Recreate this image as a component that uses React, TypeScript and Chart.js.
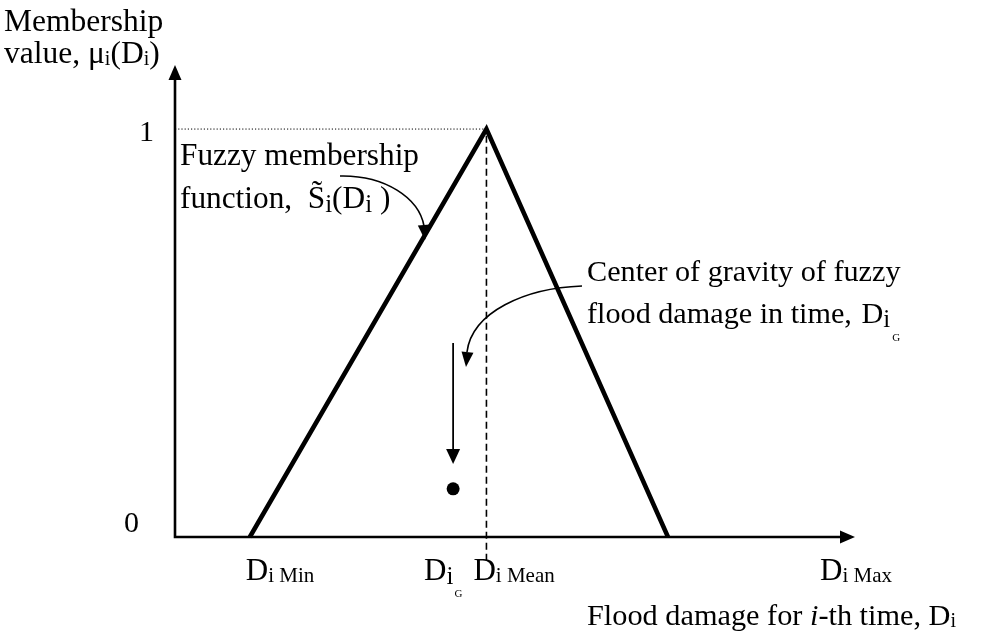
import React, { useEffect, useRef } from "react";
import { Chart, registerables } from "chart.js";

Chart.register(...registerables);

// Damage axis (arbitrary units 0..100) and membership values
const triangleX = [11.0, 45.8, 72.5]; // D_i Min, D_i Mean, D_i Max
const triangleY = [0, 1, 0];
const centroidX = [40.9]; // D_iG
const centroidY = [0.118];
const xAxisMax = 100;
const yAxisMax = 1.157;
const yTickValues = [0, 1];
const yTickLabels = ["0", "1"];
const meanLineBottom = -0.058;

const FONT = '"Liberation Serif", "Times New Roman", serif';

type Run = { t: string; s: number; dy?: number; it?: boolean };

function drawRich(ctx: CanvasRenderingContext2D, x: number, y: number, runs: Run[], align: "left" | "right" | "center" = "left") {
  let w = 0;
  for (const r of runs) {
    ctx.font = `${r.it ? "italic " : ""}${r.s}px ${FONT}`;
    w += ctx.measureText(r.t).width;
  }
  let cx = align === "right" ? x - w : align === "center" ? x - w / 2 : x;
  ctx.textAlign = "left";
  ctx.textBaseline = "alphabetic";
  for (const r of runs) {
    ctx.font = `${r.it ? "italic " : ""}${r.s}px ${FONT}`;
    ctx.fillText(r.t, cx, y + (r.dy || 0));
    cx += ctx.measureText(r.t).width;
  }
  return cx;
}

function arrowHead(ctx: CanvasRenderingContext2D, tipX: number, tipY: number, angle: number, len: number, half: number) {
  ctx.save();
  ctx.translate(tipX, tipY);
  ctx.rotate(angle);
  ctx.beginPath();
  ctx.moveTo(0, 0);
  ctx.lineTo(-len, -half);
  ctx.lineTo(-len, half);
  ctx.closePath();
  ctx.fill();
  ctx.restore();
}

const diagramPlugin = {
  id: "diagram",
  afterDatasetsDraw(chart: any) {
    const ctx: CanvasRenderingContext2D = chart.ctx;
    const xs = chart.scales.x;
    const ys = chart.scales.y;
    const X = (v: number) => xs.getPixelForValue(v);
    const Y = (v: number) => ys.getPixelForValue(v);
    ctx.save();
    ctx.fillStyle = "#000";
    ctx.strokeStyle = "#000";

    // axes
    const x0 = X(0), y0 = Y(0);
    const xEnd = X(xAxisMax), yEnd = Y(yAxisMax);
    ctx.lineWidth = 2.6;
    ctx.beginPath();
    ctx.moveTo(x0, yEnd + 10);
    ctx.lineTo(x0, y0);
    ctx.lineTo(xEnd - 10, y0);
    ctx.stroke();
    arrowHead(ctx, x0, yEnd, -Math.PI / 2, 15, 6.5);
    arrowHead(ctx, xEnd, y0, 0, 15, 6.5);

    // y tick labels
    yTickValues.forEach((v, i) => {
      if (v === 0) drawRich(ctx, x0 - 36, Y(v) - 5, [{ t: yTickLabels[i], s: 30 }], "right");
      else drawRich(ctx, x0 - 21, Y(v) + 12, [{ t: yTickLabels[i], s: 30 }], "right");
    });

    // axis titles
    drawRich(ctx, 4, 31, [{ t: "Membership", s: 31.5 }]);
    drawRich(ctx, 4, 63, [
      { t: "value, \u03bc", s: 31.5 },
      { t: "i", s: 20, dy: 2 },
      { t: "(D", s: 31.5 },
      { t: "i", s: 20, dy: 2 },
      { t: ")", s: 31.5 },
    ]);
    drawRich(ctx, 587, 625, [
      { t: "Flood damage for ", s: 30.3 },
      { t: "i", s: 30.3, it: true },
      { t: "-th time, D", s: 30.3 },
      { t: "i", s: 20, dy: 2 },
    ]);

    // x labels
    const xMin = X(triangleX[0]), xMean = X(triangleX[1]), xMax = X(triangleX[2]), xG = X(centroidX[0]);
    drawRich(ctx, xMin - 4, 580, [{ t: "D", s: 31 }, { t: "i Min", s: 21, dy: 2 }]);
    drawRich(ctx, xMean - 13, 580, [{ t: "D", s: 31 }, { t: "i Mean", s: 21, dy: 2 }]);
    drawRich(ctx, xMax + 152, 580, [{ t: "D", s: 31 }, { t: "i Max", s: 21, dy: 2 }]);
    const gEnd = drawRich(ctx, xG - 29, 580, [{ t: "D", s: 31 }, { t: "i", s: 25, dy: 4 }]);
    drawRich(ctx, gEnd + 1, 597, [{ t: "G", s: 11 }]);

    // membership function annotation
    drawRich(ctx, 180, 165, [{ t: "Fuzzy membership", s: 31.3 }]);
    drawRich(ctx, 180, 208, [
      { t: "function,  S\u0303", s: 31.3 },
      { t: "i", s: 25, dy: 4 },
      { t: "(D", s: 31.3 },
      { t: "i", s: 25, dy: 4 },
      { t: " )", s: 31.3 },
    ]);
    ctx.lineWidth = 1.6;
    ctx.beginPath();
    ctx.moveTo(340, 176);
    ctx.bezierCurveTo(385, 175, 419, 198, 424, 226);
    ctx.stroke();
    arrowHead(ctx, 425, 240, Math.PI / 2 - 0.08, 15, 6);

    // center of gravity annotation
    drawRich(ctx, 587, 281, [{ t: "Center of gravity of fuzzy", s: 30.2 }]);
    const tEnd = drawRich(ctx, 587, 323, [{ t: "flood damage in time, ", s: 30.2 }]);
    const dEnd = drawRich(ctx, tEnd + 2, 323, [
      { t: "D", s: 30.2 },
      { t: "i", s: 25, dy: 4 },
    ]);
    drawRich(ctx, dEnd + 2, 341, [{ t: "G", s: 11 }]);
    ctx.lineWidth = 1.6;
    ctx.beginPath();
    ctx.moveTo(582, 286);
    ctx.bezierCurveTo(525, 288, 472, 312, 467, 352);
    ctx.stroke();
    arrowHead(ctx, 466, 367, Math.PI / 2 + 0.1, 15, 6);

    // straight arrow to centroid
    ctx.lineWidth = 1.8;
    ctx.beginPath();
    ctx.moveTo(xG, 343);
    ctx.lineTo(xG, 452);
    ctx.stroke();
    arrowHead(ctx, xG, 464, Math.PI / 2, 15, 7);

    ctx.restore();
  },
};

export default function App() {
  const ref = useRef<HTMLCanvasElement | null>(null);
  useEffect(() => {
    if (!ref.current) return;
    const chart = new Chart(ref.current, {
      type: "scatter",
      data: {
        datasets: [
          {
            data: [
              { x: 0, y: 1 },
              { x: triangleX[1], y: 1 },
            ],
            showLine: true,
            borderColor: "#000",
            borderWidth: 1,
            borderDash: [1.2, 2],
            pointRadius: 0,
            clip: false,
          } as any,
          {
            data: [
              { x: triangleX[1], y: meanLineBottom },
              { x: triangleX[1], y: 1 },
            ],
            showLine: true,
            borderColor: "#000",
            borderWidth: 1.6,
            borderDash: [7, 4],
            pointRadius: 0,
            clip: false,
          } as any,
          {
            data: triangleX.map((x, i) => ({ x, y: triangleY[i] })),
            showLine: true,
            borderColor: "#000",
            borderWidth: 4.5,
            borderJoinStyle: "miter",
            pointRadius: 0,
            clip: false,
          } as any,
          {
            data: centroidX.map((x, i) => ({ x, y: centroidY[i] })),
            backgroundColor: "#000",
            borderColor: "#000",
            pointRadius: 6.5,
            borderWidth: 0,
            clip: false,
          } as any,
        ],
      },
      options: {
        animation: false,
        responsive: false,
        maintainAspectRatio: false,
        events: [],
        layout: { padding: { left: 175, right: 142, top: 65, bottom: 100 } },
        plugins: { legend: { display: false }, tooltip: { enabled: false }, title: { display: false } },
        scales: {
          x: { type: "linear", min: 0, max: xAxisMax, display: false },
          y: { type: "linear", min: 0, max: yAxisMax, display: false },
        },
      },
      plugins: [diagramPlugin],
    });
    return () => chart.destroy();
  }, []);
  return (
    <div style={{ position: "absolute", left: 0, top: 0, width: 997, height: 637, background: "#fff" }}>
      <canvas ref={ref} width={997} height={637} style={{ width: 997, height: 637, display: "block" }} />
    </div>
  );
}
